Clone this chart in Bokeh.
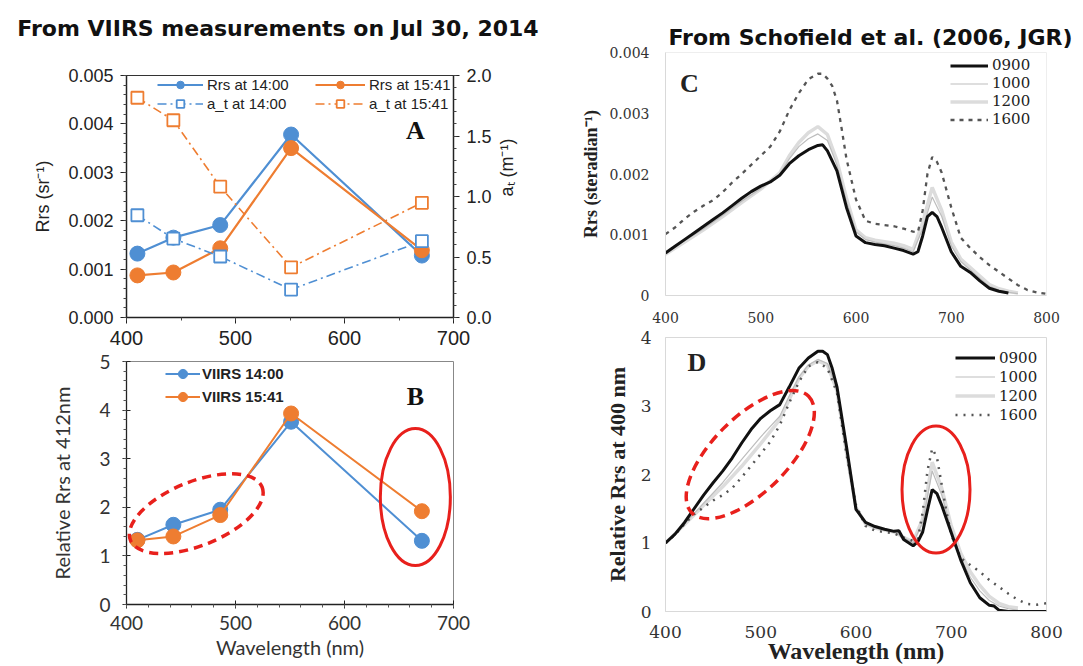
import math
from bokeh.plotting import figure
from bokeh.models import (Range1d, LinearAxis, SingleIntervalTicker, NumeralTickFormatter,
                          Legend, LegendItem, Label, Div)
from bokeh.layouts import row, column
from bokeh.embed import file_html
from bokeh.resources import INLINE

# ---------------- Data: VIIRS (panels A, B) ----------------
viirs_wl = [410, 443, 486, 551, 671]
rrs_1400 = [0.00132, 0.00165, 0.00191, 0.00378, 0.00128]
rrs_1541 = [0.00087, 0.00093, 0.00143, 0.00350, 0.00139]
at_1400 = [0.845, 0.652, 0.504, 0.231, 0.631]
at_1541 = [1.816, 1.630, 1.081, 0.415, 0.948]
rel_1400 = [1.33, 1.64, 1.95, 3.76, 1.31]
rel_1541 = [1.32, 1.40, 1.84, 3.93, 1.92]

# ---------------- Data: Schofield et al. (panels C, D) ----------------
# Rrs in units of 1e-3 sr^-1
wl_c0900 = [400, 410, 420, 430, 440, 450, 460, 470, 480, 490, 500, 510, 520, 530, 540, 550, 560, 565,
            570, 580, 590, 600, 610, 620, 630, 640, 650, 660, 665, 670, 675, 680, 685, 690, 700, 710,
            720, 730, 740, 750, 760]
c_0900 = [0.70, 0.81, 0.92, 1.03, 1.14, 1.25, 1.36, 1.48, 1.60, 1.71, 1.80, 1.87, 1.98, 2.17, 2.30,
          2.40, 2.47, 2.48, 2.38, 2.05, 1.45, 0.98, 0.87, 0.84, 0.82, 0.78, 0.74, 0.68, 0.72, 0.98,
          1.30, 1.37, 1.30, 1.12, 0.72, 0.48, 0.38, 0.24, 0.12, 0.07, 0.04]
wl_grid = [400, 420, 440, 460, 480, 500, 520, 530, 540, 550, 560, 570, 580, 590, 600, 610, 620, 640,
           650, 660, 670, 680, 690, 700, 710, 720, 730, 740, 750, 760, 770]
c_1000 = [0.70, 0.90, 1.10, 1.32, 1.55, 1.76, 2.00, 2.25, 2.45, 2.58, 2.66, 2.55, 2.15, 1.55, 1.05,
          0.92, 0.88, 0.82, 0.78, 0.72, 1.10, 1.62, 1.30, 0.82, 0.56, 0.42, 0.28, 0.15, 0.09, 0.05, 0.03]
c_1200 = [0.68, 0.88, 1.08, 1.30, 1.53, 1.75, 2.02, 2.30, 2.52, 2.68, 2.78, 2.65, 2.22, 1.60, 1.08,
          0.95, 0.91, 0.86, 0.82, 0.76, 1.20, 1.78, 1.40, 0.88, 0.60, 0.46, 0.32, 0.18, 0.11, 0.07, 0.04]
wl_c1600 = [400, 410, 420, 430, 440, 450, 460, 470, 480, 490, 500, 510, 520, 530, 540, 550, 560, 565,
            570, 575, 580, 585, 590, 600, 610, 620, 630, 640, 650, 660, 665, 670, 675, 680, 685, 690,
            700, 710, 720, 730, 740, 750, 760, 770, 780, 790, 800]
c_1600 = [1.01, 1.12, 1.26, 1.38, 1.48, 1.57, 1.70, 1.86, 2.00, 2.15, 2.30, 2.45, 2.70, 3.05, 3.33,
          3.56, 3.65, 3.65, 3.57, 3.45, 3.21, 2.74, 2.25, 1.58, 1.23, 1.18, 1.16, 1.14, 1.10, 1.05,
          1.04, 1.40, 2.00, 2.28, 2.20, 2.02, 1.45, 0.95, 0.78, 0.63, 0.50, 0.39, 0.28, 0.17, 0.09,
          0.05, 0.03]

# Relative Rrs (normalised at 400 nm)
wl_d0900 = [400, 410, 420, 430, 440, 450, 460, 470, 480, 490, 500, 510, 520, 530, 540, 550, 560, 565,
            570, 575, 580, 590, 600, 610, 620, 630, 640, 645, 650, 660, 665, 670, 675, 680, 685, 690,
            700, 710, 720, 730, 740, 745, 750, 760, 800]
d_0900 = [1.00, 1.13, 1.30, 1.50, 1.70, 1.88, 2.05, 2.24, 2.46, 2.66, 2.82, 2.93, 3.02, 3.28, 3.55,
          3.70, 3.80, 3.80, 3.75, 3.55, 3.28, 2.41, 1.49, 1.30, 1.24, 1.20, 1.17, 1.18, 1.05, 0.96,
          1.02, 1.16, 1.48, 1.78, 1.72, 1.55, 1.15, 0.75, 0.42, 0.20, 0.09, 0.08, 0.02, 0.00, 0.00]
d_1000 = [1.00, 1.28, 1.58, 1.88, 2.22, 2.55, 2.85, 3.15, 3.42, 3.60, 3.68, 3.62, 3.25, 2.35, 1.50,
          1.28, 1.22, 1.16, 1.08, 1.00, 1.30, 2.05, 1.70, 1.20, 0.78, 0.50, 0.30, 0.16, 0.08, 0.04, 0.02]
d_1200 = [1.00, 1.27, 1.55, 1.82, 2.12, 2.45, 2.80, 3.10, 3.40, 3.58, 3.66, 3.60, 3.22, 2.32, 1.52,
          1.28, 1.22, 1.16, 1.08, 1.02, 1.35, 2.18, 1.80, 1.25, 0.85, 0.58, 0.38, 0.22, 0.12, 0.07, 0.05]
wl_d1600 = [400, 410, 420, 430, 440, 450, 460, 470, 480, 490, 500, 510, 520, 530, 540, 550, 560, 570,
            580, 590, 600, 610, 620, 640, 650, 660, 665, 670, 675, 680, 685, 690, 695, 700, 710, 720,
            730, 740, 750, 760, 770, 780, 790, 800]
d_1600 = [1.00, 1.12, 1.28, 1.42, 1.52, 1.62, 1.70, 1.80, 1.96, 2.13, 2.30, 2.48, 2.72, 3.05, 3.35,
          3.58, 3.64, 3.55, 3.20, 2.30, 1.55, 1.25, 1.18, 1.14, 1.08, 1.03, 1.05, 1.45, 2.05, 2.38,
          2.25, 1.85, 1.45, 1.12, 0.78, 0.68, 0.58, 0.46, 0.36, 0.26, 0.17, 0.11, 0.10, 0.12]

# Highlight ellipses (centre in data units, size in pixels, angle in degrees)
b_dash_ell = dict(x=[464], y=[1.87], w=[142], h=[64], a=[22])
b_solid_ell = dict(x=[665], y=[2.21], w=[70], h=[137], a=[0])
d_dash_ell = dict(x=[489], y=[2.29], w=[165], h=[75], a=[45])
d_solid_ell = dict(x=[684], y=[1.78], w=[68], h=[127], a=[0])

title_left = "From VIIRS measurements on Jul 30, 2014"
title_right = "From Schofield et al. (2006, JGR)"

BLUE = "#4f8fd3"
ORANGE = "#ee7d31"
RED = "#e8201c"


def base_fig(w, h, xr, yr, l, r, t, b):
    p = figure(width=w, height=h, x_range=Range1d(*xr), y_range=Range1d(*yr),
               output_backend="svg", toolbar_location=None,
               min_border_left=l, min_border_right=r, min_border_top=t, min_border_bottom=b)
    p.grid.visible = False
    p.background_fill_color = "white"
    p.border_fill_color = "white"
    return p


def style_axis(ax, font, tsize, lsize, color="#222", lstyle="normal", tstyle="normal"):
    ax.major_label_text_font = font
    ax.major_label_text_font_size = tsize
    ax.major_label_text_color = color
    ax.major_label_text_font_style = tstyle
    ax.axis_label_text_font = font
    ax.axis_label_text_font_size = lsize
    ax.axis_label_text_font_style = lstyle
    ax.axis_label_text_color = color


def plain_legend(items, loc, font, size, gw, gh, style="normal", standoff=4):
    return Legend(items=items, location=loc, padding=0, spacing=0, margin=0,
                  glyph_width=gw, glyph_height=gh, label_height=gh, label_standoff=standoff,
                  label_text_font=font, label_text_font_size=size, label_text_font_style=style,
                  label_text_color="#222", border_line_alpha=0, background_fill_alpha=0)


# ======================= Title (left column) =======================
title_div = Div(
    text=('<div style="width:556px;text-align:center;font-family:\'DejaVu Sans\';'
          'font-weight:bold;font-size:22px;line-height:26px;color:#111;padding-top:16px;'
          'white-space:nowrap;">' + title_left + '</div>'),
    width=575, height=46, margin=(0, 0, 0, 0))

# ======================= Panel A =======================
pA = base_fig(575, 304, (400, 700), (0, 0.005), 126, 120, 29, 33)
pA.outline_line_color = "#333"
pA.extra_y_ranges = {"at": Range1d(0, 2)}

axA = pA.xaxis[0]
axA.ticker = SingleIntervalTicker(interval=100, num_minor_ticks=2)
style_axis(axA, "Liberation Sans", "20px", "16px")
ayA = pA.yaxis[0]
ayA.ticker = SingleIntervalTicker(interval=0.001, num_minor_ticks=5)
ayA.formatter = NumeralTickFormatter(format="0.000")
ayA.axis_label = "Rrs (sr⁻¹)"
ayA.axis_label_standoff = 12
style_axis(ayA, "Liberation Sans", "18px", "18px")
rA = LinearAxis(y_range_name="at", ticker=SingleIntervalTicker(interval=0.5, num_minor_ticks=5),
                formatter=NumeralTickFormatter(format="0.0"), axis_label="aₜ (m⁻¹)")
style_axis(rA, "Liberation Sans", "18px", "18px")
rA.axis_label_standoff = 12
rA.axis_label_orientation = math.pi / 2
pA.add_layout(rA, "right")
for ax in (axA, ayA, rA):
    ax.axis_line_color = "#222"
    ax.axis_line_width = 1.5
    ax.major_tick_line_color = "#222"
    ax.minor_tick_line_color = "#444"
    ax.major_tick_out = 6
    ax.major_tick_in = 0
    ax.minor_tick_out = 3
    ax.minor_tick_in = 0
    ax.major_label_standoff = 7

lb = pA.line(viirs_wl, rrs_1400, line_color=BLUE, line_width=2.2)
sb_small = pA.scatter(viirs_wl, rrs_1400, marker="circle", size=7, color=BLUE)
pA.scatter(viirs_wl, rrs_1400, marker="circle", size=15, color=BLUE)
lo = pA.line(viirs_wl, rrs_1541, line_color=ORANGE, line_width=2.2)
so_small = pA.scatter(viirs_wl, rrs_1541, marker="circle", size=7, color=ORANGE)
pA.scatter(viirs_wl, rrs_1541, marker="circle", size=15, color=ORANGE)
la_b = pA.line(viirs_wl, at_1400, y_range_name="at", line_color=BLUE, line_width=1.6,
               line_dash="9 4 2 4")
sa_b = pA.scatter(viirs_wl, at_1400, y_range_name="at", marker="square", size=12,
                  fill_color="white", line_color=BLUE, line_width=1.8)
la_o = pA.line(viirs_wl, at_1541, y_range_name="at", line_color=ORANGE, line_width=1.6,
               line_dash="9 4 2 4")
sa_o = pA.scatter(viirs_wl, at_1541, y_range_name="at", marker="square", size=12,
                  fill_color="white", line_color=ORANGE, line_width=1.8)

pA.add_layout(plain_legend([LegendItem(label="Rrs at 14:00", renderers=[lb, sb_small]),
                            LegendItem(label="a_t at 14:00", renderers=[la_b, sa_b])],
                           (31, 204), "Liberation Sans", "15px", 46, 19))
pA.add_layout(plain_legend([LegendItem(label="Rrs at 15:41", renderers=[lo, so_small]),
                            LegendItem(label="a_t at 15:41", renderers=[la_o, sa_o])],
                           (189, 204), "Liberation Sans", "15px", 50, 19))
pA.add_layout(Label(x=665, y=0.00386, text="A", text_font="Liberation Serif",
                    text_font_style="bold", text_font_size="26px", text_align="center",
                    text_baseline="middle", text_color="#111"))

# ======================= Panel B =======================
pB = base_fig(575, 316, (400, 700), (0, 5), 126, 122, 11, 62)
pB.outline_line_color = "#888"
axB = pB.xaxis[0]
axB.ticker = SingleIntervalTicker(interval=100, num_minor_ticks=5)
axB.axis_label = "Wavelength (nm)"
axB.axis_label_standoff = 2
style_axis(axB, "Lato", "19px", "20px", color="#333")
ayB = pB.yaxis[0]
ayB.ticker = SingleIntervalTicker(interval=1, num_minor_ticks=5)
ayB.axis_label = "Relative Rrs at 412nm"
ayB.axis_label_standoff = 22
style_axis(ayB, "Lato", "19px", "20px", color="#333")
for ax in (axB, ayB):
    ax.axis_line_color = "#222"
    ax.axis_line_width = 1.3
    ax.major_tick_line_color = "#222"
    ax.minor_tick_line_color = "#555"
    ax.major_tick_out = 4
    ax.major_tick_in = 4
    ax.minor_tick_out = 3
    ax.minor_tick_in = 0
axB.major_label_standoff = 7
ayB.major_label_standoff = 12

lbB = pB.line(viirs_wl, rel_1400, line_color=BLUE, line_width=2)
sbB = pB.scatter(viirs_wl, rel_1400, marker="circle", size=7, color=BLUE)
pB.scatter(viirs_wl, rel_1400, marker="circle", size=15, color=BLUE)
loB = pB.line(viirs_wl, rel_1541, line_color=ORANGE, line_width=2)
soB = pB.scatter(viirs_wl, rel_1541, marker="circle", size=7, color=ORANGE)
pB.scatter(viirs_wl, rel_1541, marker="circle", size=15, color=ORANGE)
pB.ellipse(x=b_dash_ell["x"], y=b_dash_ell["y"], width=b_dash_ell["w"], height=b_dash_ell["h"],
           angle=b_dash_ell["a"], angle_units="deg", width_units="screen", height_units="screen",
           fill_alpha=0, line_color=RED, line_width=3.5, line_dash="9 6")
pB.ellipse(x=b_solid_ell["x"], y=b_solid_ell["y"], width=b_solid_ell["w"], height=b_solid_ell["h"],
           angle=b_solid_ell["a"], angle_units="deg", width_units="screen", height_units="screen",
           fill_alpha=0, line_color=RED, line_width=3)
pB.add_layout(plain_legend([LegendItem(label="VIIRS 14:00", renderers=[lbB, sbB]),
                            LegendItem(label="VIIRS 15:41", renderers=[loB, soB])],
                           (39, 196), "Liberation Sans", "15px", 35, 23, style="bold", standoff=2))
pB.add_layout(Label(x=665, y=4.28, text="B", text_font="Liberation Serif",
                    text_font_style="bold", text_font_size="26px", text_align="center",
                    text_baseline="middle", text_color="#111"))

# ======================= Panel C =======================
pC = base_fig(508, 325, (400, 800), (0, 0.004), 90, 37, 52, 30)
pC.title.text = title_right
pC.title.text_font = "DejaVu Sans"
pC.title.text_font_size = "22px"
pC.title.text_font_style = "bold"
pC.title.text_color = "#111"
pC.title.align = "left"
pC.title.offset = 3
pC.title.standoff = 5
pC.outline_line_color = "#eeeeee"
axC = pC.xaxis[0]
axC.ticker = SingleIntervalTicker(interval=100)
style_axis(axC, "DejaVu Serif", "14px", "18px", color="#333")
ayC = pC.yaxis[0]
ayC.ticker = SingleIntervalTicker(interval=0.001)
ayC.formatter = NumeralTickFormatter(format="0.000")
ayC.major_label_overrides = {0: "0"}
ayC.axis_label = "Rrs (steradian⁻¹)"
ayC.axis_label_standoff = 5
style_axis(ayC, "DejaVu Serif", "14px", "18px", color="#222", lstyle="bold")
ayC.axis_label_text_font = "Liberation Serif"
ayC.major_label_text_color = "#333"
for ax in (axC, ayC):
    ax.axis_line_color = "#d9d9d9"
    ax.major_tick_line_color = None
    ax.minor_tick_line_color = None
    ax.major_label_standoff = 10

c_1200_v = [v * 1e-3 for v in c_1200]
c_1000_v = [v * 1e-3 for v in c_1000]
c_1600_v = [v * 1e-3 for v in c_1600]
c_0900_v = [v * 1e-3 for v in c_0900]
r12 = pC.line(wl_grid, c_1200_v, line_color="#dcdcdc", line_width=3.5)
r10 = pC.line(wl_grid, c_1000_v, line_color="#bdbdbd", line_width=1.2)
r16 = pC.line(wl_c1600, c_1600_v, line_color="#555555", line_width=2.3, line_dash="4 5")
r09 = pC.line(wl_c0900, c_0900_v, line_color="#111111", line_width=3)
pC.add_layout(plain_legend([("0900", [r09]), ("1000", [r10]), ("1200", [r12]), ("1600", [r16])],
                           (285, 167), "DejaVu Serif", "15px", 38, 17))
pC.add_layout(Label(x=425, y=0.00349, text="C", text_font="Liberation Serif",
                    text_font_style="bold", text_font_size="26px", text_align="center",
                    text_baseline="middle", text_color="#222"))

# ======================= Panel D =======================
pD = base_fig(508, 341, (400, 800), (0, 4), 90, 37, 12, 53)
pD.outline_line_color = "#d9d9d9"
axD = pD.xaxis[0]
axD.ticker = SingleIntervalTicker(interval=100)
axD.axis_label = "Wavelength (nm)"
axD.axis_label_standoff = -3
style_axis(axD, "DejaVu Serif", "17px", "24px", color="#222", lstyle="bold")
axD.axis_label_text_font = "Liberation Serif"
ayD = pD.yaxis[0]
ayD.ticker = SingleIntervalTicker(interval=1)
ayD.axis_label = "Relative Rrs at 400 nm"
ayD.axis_label_standoff = 8
style_axis(ayD, "DejaVu Serif", "17px", "22px", color="#222", lstyle="bold")
ayD.axis_label_text_font = "Liberation Serif"
for ax in (axD, ayD):
    ax.axis_line_color = "#d9d9d9"
    ax.major_tick_line_color = None
    ax.minor_tick_line_color = None
    ax.major_label_text_color = "#333"
axD.major_label_standoff = 8
ayD.major_label_standoff = 8

s12 = pD.line(wl_grid, d_1200, line_color="#dcdcdc", line_width=3.5)
s10 = pD.line(wl_grid, d_1000, line_color="#bdbdbd", line_width=1.2)
s16 = pD.line(wl_d1600, d_1600, line_color="#555555", line_width=2.5, line_dash="2 6")
s09 = pD.line(wl_d0900, d_0900, line_color="#111111", line_width=3)
pD.ellipse(x=d_dash_ell["x"], y=d_dash_ell["y"], width=d_dash_ell["w"], height=d_dash_ell["h"],
           angle=d_dash_ell["a"], angle_units="deg", width_units="screen", height_units="screen",
           fill_alpha=0, line_color=RED, line_width=3.5, line_dash="10 6")
pD.ellipse(x=d_solid_ell["x"], y=d_solid_ell["y"], width=d_solid_ell["w"], height=d_solid_ell["h"],
           angle=d_solid_ell["a"], angle_units="deg", width_units="screen", height_units="screen",
           fill_alpha=0, line_color=RED, line_width=3)
pD.add_layout(plain_legend([("0900", [s09]), ("1000", [s10]), ("1200", [s12]), ("1600", [s16])],
                           (290, 187), "DejaVu Serif", "15px", 40, 19))
pD.add_layout(Label(x=433, y=3.64, text="D", text_font="Liberation Serif",
                    text_font_style="bold", text_font_size="26px", text_align="center",
                    text_baseline="middle", text_color="#222"))

layout = row(column(title_div, pA, pB), column(pC, pD))
open("out.html", "w").write(file_html(layout, INLINE))
